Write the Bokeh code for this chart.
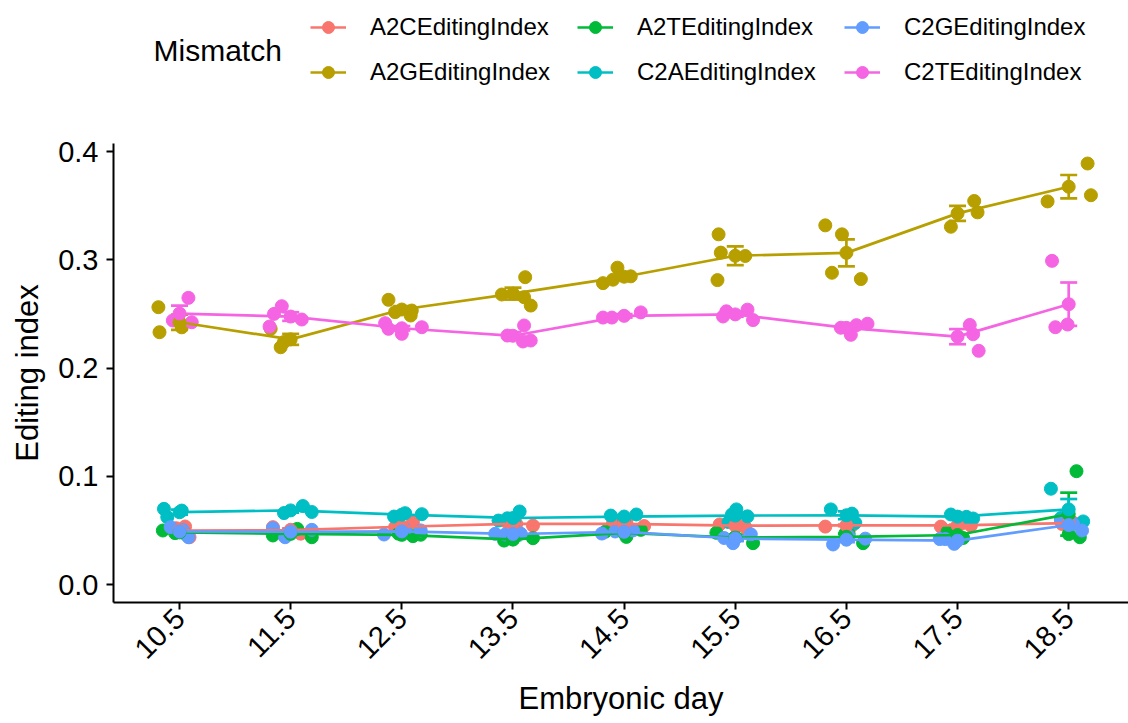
import numpy as np
from bokeh.plotting import figure
from bokeh.layouts import column
from bokeh.models import (Range1d, FixedTicker, NumeralTickFormatter, Legend, LegendItem,
                          Whisker, TeeHead, ColumnDataSource, Label)
from bokeh.embed import file_html
from bokeh.resources import INLINE

# ---------------- data ----------------
days = [10.5, 11.5, 12.5, 13.5, 14.5, 15.5, 16.5, 17.5, 18.5]
day_labels = ["10.5", "11.5", "12.5", "13.5", "14.5", "15.5", "16.5", "17.5", "18.5"]
y_ticks = [0.0, 0.1, 0.2, 0.3, 0.4]
legend_title = "Mismatch"
mismatch = ["A2CEditingIndex", "A2GEditingIndex", "A2TEditingIndex",
            "C2AEditingIndex", "C2GEditingIndex", "C2TEditingIndex"]
colors = ["#F8766D", "#B79F00", "#00BA38", "#00BFC4", "#619CFF", "#F564E3"]

# replicate values per embryonic day, and their jittered x position (in days)
A2C_y = [[0.0536, 0.0437, 0.0520], [0.0530, 0.0505, 0.0470], [0.0576, 0.0530, 0.0495],
         [0.0545, 0.0580, 0.0560], [0.0565, 0.0575, 0.0540], [0.0555, 0.0545, 0.0530],
         [0.0535, 0.0560, 0.0545], [0.0535, 0.0560, 0.0545], [0.0560, 0.0580, 0.0560]]
A2C_x = [[10.55, 10.59, 10.47], [11.34, 11.50, 11.59], [12.60, 12.44, 12.53],
         [13.68, 13.44, 13.53], [14.40, 14.52, 14.68], [15.36, 15.52, 15.59],
         [16.31, 16.52, 16.55], [17.35, 17.53, 17.62], [18.44, 18.53, 18.60]]

A2G_y = [[0.2562, 0.2331, 0.2376], [0.2192, 0.2362, 0.2240], [0.2630, 0.2516, 0.2531, 0.2485],
         [0.2679, 0.2839, 0.2654, 0.2577], [0.2784, 0.2816, 0.2927, 0.2847],
         [0.3235, 0.3066, 0.2812, 0.3035], [0.3318, 0.3235, 0.2880, 0.2822],
         [0.3305, 0.3543, 0.3438], [0.3539, 0.3889, 0.3596]]
A2G_x = [[10.31, 10.32, 10.52], [11.41, 11.32, 11.44], [12.38, 12.44, 12.59, 12.58],
         [13.40, 13.61, 13.60, 13.66], [14.31, 14.40, 14.44, 14.56],
         [15.35, 15.37, 15.34, 15.59], [16.31, 16.46, 16.37, 16.63],
         [17.44, 17.65, 17.68], [18.31, 18.67, 18.70]]

A2T_y = [[0.0499, 0.0475, 0.0470], [0.0453, 0.0514, 0.0437], [0.0470, 0.0447, 0.0460],
         [0.0406, 0.0416, 0.0428], [0.0488, 0.0440, 0.0505], [0.0478, 0.0382, 0.0440],
         [0.0471, 0.0382, 0.0470], [0.0487, 0.0455, 0.0430], [0.1047, 0.0437, 0.0466]]
A2T_x = [[10.35, 10.46, 10.55], [11.34, 11.56, 11.69], [12.47, 12.60, 12.67],
         [13.42, 13.50, 13.68], [14.33, 14.52, 14.65], [15.33, 15.66, 15.50],
         [16.49, 16.65, 16.52], [17.41, 17.48, 17.55], [18.57, 18.60, 18.50]]

C2A_y = [[0.0699, 0.0622, 0.0683], [0.0660, 0.0725, 0.0670], [0.0628, 0.0659, 0.0650],
         [0.0591, 0.0612, 0.0675, 0.0580], [0.0637, 0.0647, 0.0600],
         [0.0694, 0.0647, 0.0630, 0.0577], [0.0694, 0.0655, 0.0570],
         [0.0647, 0.0625, 0.0610], [0.0885, 0.0583, 0.0614]]
C2A_x = [[10.36, 10.39, 10.52], [11.44, 11.61, 11.69], [12.43, 12.53, 12.68],
         [13.37, 13.45, 13.56, 13.51], [14.38, 14.61, 14.50],
         [15.51, 15.47, 15.61, 15.44], [16.36, 16.55, 16.58],
         [17.44, 17.58, 17.64], [18.34, 18.63, 18.43]]

C2G_y = [[0.0530, 0.0437, 0.0503], [0.0520, 0.0437, 0.0505], [0.0462, 0.0510, 0.0500],
         [0.0468, 0.0462, 0.0470], [0.0471, 0.0490, 0.0500], [0.0382, 0.0464, 0.0430],
         [0.0370, 0.0424, 0.0448], [0.0376, 0.0420, 0.0420], [0.0499, 0.0590, 0.0560]]
C2G_x = [[10.42, 10.58, 10.53], [11.34, 11.45, 11.69], [12.34, 12.53, 12.67],
         [13.34, 13.43, 13.57], [14.30, 14.42, 14.58], [15.48, 15.64, 15.40],
         [16.38, 16.67, 16.52], [17.47, 17.39, 17.34], [18.62, 18.43, 18.54]]

C2T_y = [[0.2648, 0.2439, 0.2423], [0.2571, 0.2500, 0.2383, 0.2448],
         [0.2414, 0.2362, 0.2316, 0.2377], [0.2393, 0.2245, 0.2254, 0.2300],
         [0.2466, 0.2466, 0.2514], [0.2524, 0.2539, 0.2443, 0.2476],
         [0.2307, 0.2396, 0.2409, 0.2372], [0.2398, 0.2312, 0.2159],
         [0.2990, 0.2377, 0.2402]]
C2T_x = [[10.58, 10.44, 10.61], [11.42, 11.35, 11.31, 11.60],
         [12.35, 12.38, 12.50, 12.68], [13.60, 13.59, 13.66, 13.45],
         [14.31, 14.39, 14.65], [15.42, 15.61, 15.66, 15.39],
         [16.54, 16.59, 16.69, 16.45], [17.61, 17.64, 17.69],
         [18.35, 18.38, 18.49]]

series = {
    "A2CEditingIndex": (A2C_x, A2C_y),
    "A2GEditingIndex": (A2G_x, A2G_y),
    "A2TEditingIndex": (A2T_x, A2T_y),
    "C2AEditingIndex": (C2A_x, C2A_y),
    "C2GEditingIndex": (C2G_x, C2G_y),
    "C2TEditingIndex": (C2T_x, C2T_y),
}

FONT = "Liberation Sans"
PT = 13
LW = 2.7
LEG_H = 133
LEFT = 113

# summaries: mean and standard error per day
means, ses = {}, {}
for name in mismatch:
    _, ys = series[name]
    means[name] = [float(np.mean(g)) for g in ys]
    ses[name] = [float(np.std(g, ddof=1) / np.sqrt(len(g))) for g in ys]

# ---------------- main plot ----------------
p = figure(width=1128, height=723 - LEG_H, output_backend="svg", toolbar_location=None,
           x_range=Range1d(9.906, 19.038), y_range=Range1d(-0.0166, 0.4074),
           min_border_left=LEFT, min_border_right=0, min_border_top=10,
           min_border_bottom=121)
p.grid.visible = False
p.outline_line_color = None

for ax in (p.xaxis, p.yaxis):
    ax.axis_line_width = 2
    ax.axis_line_color = "black"
    ax.major_tick_line_width = 2
    ax.major_tick_line_color = "black"
    ax.major_tick_out = 7
    ax.major_tick_in = 0
    ax.minor_tick_line_color = None
    ax.major_label_text_font = FONT
    ax.major_label_text_font_size = "29px"
    ax.major_label_text_color = "black"
    ax.axis_label_text_font = FONT
    ax.axis_label_text_font_size = "31px"
    ax.axis_label_text_font_style = "normal"
    ax.axis_label_text_color = "black"

p.xaxis.ticker = FixedTicker(ticks=days)
p.xaxis.major_label_overrides = {d: lab for d, lab in zip(days, day_labels)}
p.xaxis.major_label_orientation = np.pi / 4
p.xaxis.axis_label = "Embryonic day"
p.xaxis.major_label_standoff = 4
p.xaxis.axis_label_standoff = 10

p.yaxis.ticker = FixedTicker(ticks=y_ticks)
p.yaxis.formatter = NumeralTickFormatter(format="0.0")
p.yaxis.axis_label = "Editing index"
p.yaxis.major_label_standoff = 8
p.yaxis.axis_label_standoff = 10

# replicate points
for name, col in zip(mismatch, colors):
    xs, ys = series[name]
    fx = [v for grp in xs for v in grp]
    fy = [v for grp in ys for v in grp]
    p.scatter(fx, fy, size=PT, color=col, line_color=col)

for name, col in zip(mismatch, colors):
    p.line(days, means[name], line_width=LW, line_color=col)

for name, col in zip(mismatch, colors):
    m = np.array(means[name]); s = np.array(ses[name])
    src = ColumnDataSource(dict(x=days, upper=list(m + s), lower=list(m - s)))
    w = Whisker(base="x", upper="upper", lower="lower", source=src, dimension="height",
                line_color=col, line_width=LW,
                upper_head=TeeHead(size=17, line_color=col, line_width=LW),
                lower_head=TeeHead(size=17, line_color=col, line_width=LW))
    p.add_layout(w)

for name, col in zip(mismatch, colors):
    p.scatter(days, means[name], size=PT, color=col, line_color=col)

# ---------------- legend strip ----------------
# same series drawn on ranges that keep them out of view; only the legend shows
LW_STRIP = 1128 - LEFT
lf = figure(width=1128, height=LEG_H, output_backend="svg", toolbar_location=None,
            x_range=Range1d(-LW_STRIP, 0), y_range=Range1d(-LEG_H, 0),
            x_axis_location=None, y_axis_location=None,
            min_border_left=0, min_border_right=0, min_border_top=0, min_border_bottom=0)
lf.grid.visible = False
lf.outline_line_color = None

items = []
for name, col in zip(mismatch, colors):
    lr = lf.line(days, means[name], line_width=LW, line_color=col)
    sr = lf.scatter(days, means[name], size=PT, color=col, line_color=col)
    items.append(LegendItem(label=name, renderers=[lr, sr]))

legend = Legend(items=items, location=(310 - LEFT, 46), orientation="vertical", nrows=2,
                label_text_font=FONT, label_text_font_size="24px", label_text_color="black",
                glyph_width=36, glyph_height=30, label_height=30, label_width=192,
                label_standoff=24, spacing=15, padding=0, margin=0,
                background_fill_alpha=0, border_line_color=None)
lf.add_layout(legend)

lf.add_layout(Label(x=153 - LEFT - LW_STRIP, y=-50, x_units="data", y_units="data",
                    text=legend_title,
                    text_font=FONT, text_font_size="30px", text_color="black",
                    text_baseline="middle", text_align="left"))

layout = column(lf, p, spacing=0)
open("out.html", "w").write(file_html(layout, INLINE))
